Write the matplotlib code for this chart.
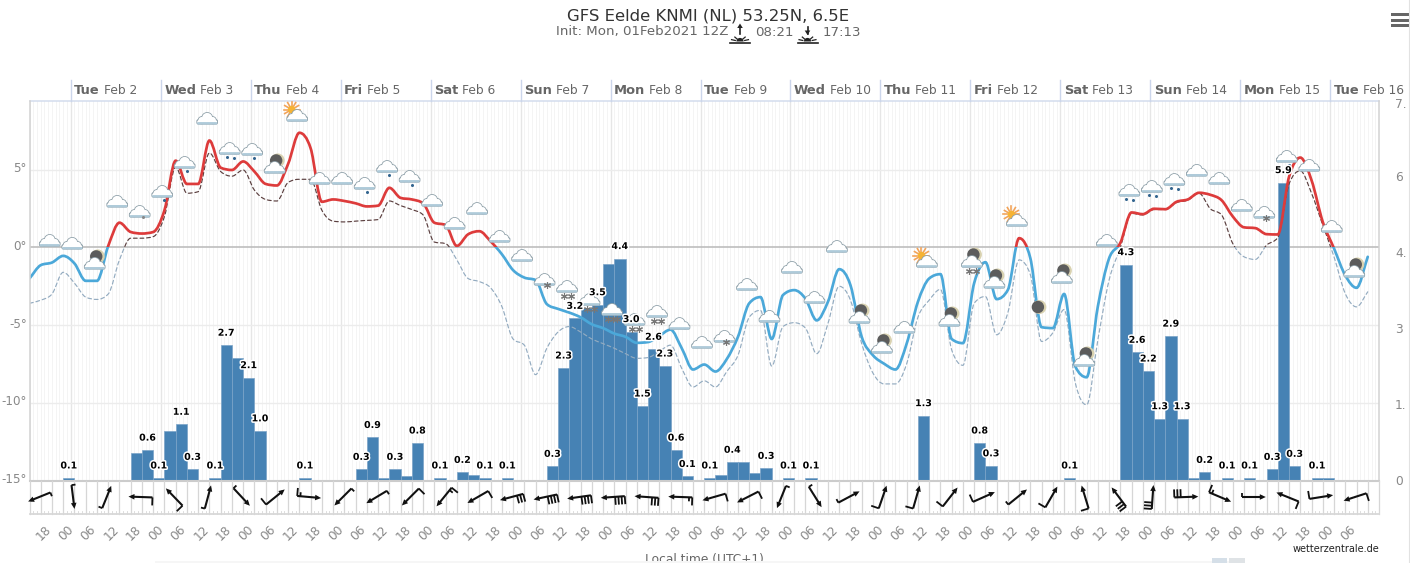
import numpy as np
import matplotlib
matplotlib.use("Agg")
import matplotlib.pyplot as plt
from matplotlib.path import Path
from matplotlib.patches import PathPatch, Rectangle, Circle, FancyBboxPatch, Polygon, Wedge
import matplotlib.patheffects as pe

# ---------- data ----------
temp = [-2.0,-1.14,-.97,-.54,-1.03,-2.15,-2.15,.1,1.6,1.0,.9,1.0,2.4,5.6,4.1,4.1,6.9,5.15,5.0,5.55,
        4.9,4.1,4.0,5.4,7.4,6.4,2.95,3.1,3.0,2.85,2.65,2.7,3.85,3.2,3.1,2.85,1.6,1.45,.1,.85,
        1.05,.4,-.43,-1.46,-1.94,-2.1,-3.65,-3.96,-4.2,-4.5,-4.95,-5.2,-5.55,-5.76,-6.15,-6.1,-5.7,-5.3,-6.5,-7.87,
        -7.55,-8.0,-7.2,-5.76,-3.6,-3.2,-5.9,-3.07,-2.75,-3.3,-4.7,-3.5,-1.4,-2.43,-5.76,-6.95,-7.5,-7.87,-6.2,-3.5,
        -2.0,-1.72,-5.9,-6.17,-2.3,-.95,-3.33,-2.73,.6,-.7,-5.14,-5.2,-3.0,-7.68,-8.37,-3.8,-.7,.3,2.26,2.15,
        2.5,2.47,2.95,3.1,3.53,3.4,3.05,2.0,1.3,1.25,.86,.84,4.56,5.8,4.34,1.65,-.06,-1.8,-2.6,-.6]
dew = [-3.6,-3.4,-3.0,-1.6,-2.3,-3.2,-3.35,-3.0,-.8,.6,.6,.7,2.0,5.2,3.5,3.6,6.1,4.9,4.6,5.0,
       3.7,3.1,3.0,4.2,4.4,4.4,2.4,1.7,1.65,1.7,1.75,1.8,3.0,2.7,2.45,2.1,.35,.25,-.8,-2.0,
       -2.2,-2.6,-3.8,-5.9,-6.3,-8.2,-6.5,-5.45,-5.1,-5.45,-5.9,-6.2,-6.5,-6.85,-7.15,-7.1,-6.7,-6.3,-7.8,-9.0,
       -8.6,-9.0,-8.0,-6.95,-4.5,-4.05,-7.65,-5.1,-4.85,-5.2,-6.85,-4.9,-2.5,-3.4,-6.2,-8.1,-8.8,-8.8,-7.5,-4.5,
       -3.4,-2.7,-6.6,-7.6,-3.6,-3.16,-5.63,-4.2,-.8,-1.76,-6.06,-5.5,-4.0,-8.75,-10.15,-5.96,-2.1,0.0,2.2,2.1,
       2.45,2.45,2.9,3.05,3.5,2.5,2.1,.25,-.6,-.77,.15,.65,4.1,4.95,3.5,1.45,-.6,-2.97,-3.83,-2.86]
precip = [0,0,0,.05,0,0,0,0,0,.54,.6,.05,.98,1.11,.22,0,.05,2.67,2.41,2.03,
          .98,0,0,0,.05,0,0,0,0,.22,.85,.05,.22,.09,.74,0,.05,0,.16,.1,
          .05,0,.05,0,0,0,.28,2.22,3.2,3.4,3.47,4.28,4.38,2.94,1.47,2.59,2.26,.6,.08,0,
          .05,.1,.36,.36,.15,.24,0,.05,0,.05,0,0,0,0,0,0,0,0,0,1.28,
          0,0,0,0,.74,.29,0,0,0,0,0,0,.05,0,0,0,0,4.26,2.53,2.16,
          1.22,2.85,1.22,.05,.16,0,.05,0,.05,0,.22,5.88,.28,0,.05,.05,0,0,0,0]
label_steps = [4,11,12,14,15,17,18,20,21,25,30,31,33,35,37,39,41,43,47,48,49,51,53,54,55,56,57,58,59,61,63,66,68,70,
               80,85,86,93,98,99,100,101,102,103,105,107,109,111,112,113,115]
label_texts = ["0.1","0.6","0.1","1.1","0.3","0.1","2.7","2.1","1.0","0.1","0.3","0.9","0.3","0.8","0.1","0.2",
               "0.1","0.1","0.3","2.3","3.2","3.5","4.4","3.0","1.5","2.6","2.3","0.6","0.1","0.1","0.4","0.3","0.1","0.1",
               "1.3","0.8","0.3","0.1","4.3","2.6","2.2","1.3","2.9","1.3","0.2","0.1","0.1","0.3","5.9","0.3","0.1"]
wind_dir = [202,277,68,178,134,75,-47,39,-5,225,211,225,231,210,195,192,188,184,176,178,
            196,207,248,-58,28,71,74,52,24,39,60,107,127,86,2,-23,0,158,9,198]
wind_barbs = [1,1,1,2,2,1,1,2,3,1,1,2,3,2,6,8,8,8,6,3,
              2,2,1,1,1,2,2,2,2,1,2,2,6,6,6,3,1,2,2,2]
icon_kind = ["c","c","m","c","d","r1","r1","c","r2","r1","m","sun","c","c","r1","r1","r1","c","c","c",
             "c","c","s1","s2","s2","s3","s2","s2","c","c","s1","c","c","c","c","c","m","m","c","sun",
             "m","ms","m","sun","moon","m","m","c","r2","r2","r2","c","c","c","s1","r1","c","c","m"]
icon_temp = [.42,.23,-1.06,2.94,2.29,3.58,5.45,8.29,6.35,6.29,5.13,8.48,4.42,4.42,4.1,5.19,4.55,3.0,1.52,2.48,
             .68,-.55,-2.1,-2.55,-3.39,-4.03,-4.68,-4.16,-4.94,-6.16,-5.77,-2.42,-4.48,-1.32,-3.26,.03,-4.55,-6.48,-5.19,-.94,
             -4.74,-.94,-2.29,1.71,-3.84,-1.97,-7.32,.42,3.65,3.9,4.35,4.94,4.42,2.68,2.23,5.84,5.26,1.32,-1.58]
day_names = ["Tue","Wed","Thu","Fri","Sat","Sun","Mon","Tue","Wed","Thu","Fri","Sat","Sun","Mon","Tue"]
day_dates = ["Feb 2","Feb 3","Feb 4","Feb 5","Feb 6","Feb 7","Feb 8","Feb 9","Feb 10","Feb 11","Feb 12",
             "Feb 13","Feb 14","Feb 15","Feb 16"]
temp_ticks = [5,0,-5,-10,-15]
temp_tick_labels = ["5°","0°","-5°","-10°","-15°"]
precip_ticks = [7.5,6,4.5,3,1.5,0]
precip_tick_labels = ["7.","6","4.","3","1.","0"]
hour_labels = ["18","00","06","12"]

W, H = 1410, 563
fig = plt.figure(figsize=(W/100, H/100), dpi=100, facecolor="white")
rect = [29.5/W, 1-480.5/H, (1379-29.5)/W, (480.5-101)/H]

axp = fig.add_axes(rect, zorder=1, facecolor="white")
ax = fig.add_axes(rect, zorder=2, facecolor="none")
ov = fig.add_axes([0, 0, 1, 1], zorder=3, facecolor="none")
ov.set_xlim(0, W); ov.set_ylim(H, 0); ov.axis("off")

for a in (ax, axp):
    a.set_xlim(0, 120)
    a.set_xticks([]); a.set_yticks([])
    for s in a.spines.values():
        s.set_visible(False)
ax.set_ylim(-15.03, 9.45)
axp.set_ylim(0, 7.49)

# fine grid, all behind the bars
for h in range(0, 361):
    axp.axvline(h/3, color="#f2f2f2", lw=0.6, zorder=0)
day_steps = [(11+24*d)/3 for d in range(len(day_names))]
for d in day_steps:
    axp.axvline(d, color="#e6e6e6", lw=1.0, zorder=0.5)
ytr = ax.get_yaxis_transform()
for t in temp_ticks[:-1]:
    if t != 0:
        axp.plot([0, 1], [t, t], transform=ytr, color="#ececec", lw=1.0, zorder=0.5)
axp.plot([0, 1], [0, 0], transform=ytr, color="#bdbdbd", lw=1.2, zorder=1)

# bars
steps = np.arange(1, len(precip)+1)
vals = np.array(precip, float)
m = vals > 0
axp.bar(steps[m]-0.5, vals[m], width=1.0, color="#4682b4", edgecolor="#7ba4c8", linewidth=0.5, zorder=2)

# smooth curve through the points: cubic with limited tangents
def spline_path(xs, ys):
    xs = np.asarray(xs, float); ys = np.asarray(ys, float)
    d = np.diff(ys)/np.diff(xs)
    m = np.zeros(len(xs))
    m[0], m[-1] = d[0], d[-1]
    for i in range(1, len(xs)-1):
        if d[i-1]*d[i] <= 0:
            m[i] = 0.0
        else:
            c = 0.5*(d[i-1]+d[i])
            lim = 2.2*min(abs(d[i-1]), abs(d[i]))
            m[i] = np.sign(c)*min(abs(c), lim)
    verts = [(xs[0], ys[0])]; codes = [Path.MOVETO]
    for i in range(1, len(xs)):
        h = xs[i]-xs[i-1]
        verts += [(xs[i-1]+h/3, ys[i-1]+m[i-1]*h/3), (xs[i]-h/3, ys[i]-m[i]*h/3), (xs[i], ys[i])]
        codes += [Path.CURVE4]*3
    return Path(verts, codes)

xk = np.arange(len(temp))
def zoned(series, above, below, lw, ls, z):
    p = spline_path(xk, series)
    for col, (y0, y1) in ((above, (0, 20)), (below, (-30, 0))):
        patch = PathPatch(p, fill=False, edgecolor=col, lw=lw, ls=ls, zorder=z, capstyle="round")
        ax.add_patch(patch)
        patch.set_clip_path(Rectangle((0, y0), 120, y1-y0, transform=ax.transData))

zoned(dew, "#5b3f3f", "#93abc0", 0.85, (0, (3.2, 2.4)), 3)
zoned(temp, "#dd3b3b", "#4ba8d9", 1.95, "-", 4)

def to_px(a, x, y):
    dx, dy = a.transData.transform((x, y))
    return dx, H-dy

# borders
ov.plot([29.5, 1379], [101, 101], color="#d3dcee", lw=1.1, zorder=1)
ov.plot([29.5, 29.5], [101, 481], color="#d2d2d2", lw=1.1, zorder=1)
ov.plot([1379, 1379], [101, 481], color="#d2d2d2", lw=1.1, zorder=1)
ov.plot([29.5, 1379], [481, 481], color="#cccccc", lw=1.5, zorder=1)

# day headers
rend = fig.canvas.get_renderer()
for d, nm, dt in zip(day_steps, day_names, day_dates):
    xp, _ = to_px(ax, d, 0)
    ov.plot([xp, xp], [80, 101], color="#ccd6eb", lw=1.0, zorder=1)
    t = ov.text(xp+3.5, 90.5, nm, fontsize=9.4, fontweight="bold", color="#666666", va="center", ha="left")
    w = t.get_window_extent(rend).width
    ov.text(xp+3.5+w+4, 91, dt, fontsize=8.8, color="#666666", va="center", ha="left")

# tick labels
for t, l in zip(temp_ticks, temp_tick_labels):
    _, yp = to_px(ax, 0, t)
    ov.text(27, yp-1, l, fontsize=8.6, color="#888888", ha="right", va="center")
for t, l in zip(precip_ticks, precip_tick_labels):
    _, yp = to_px(axp, 0, t)
    ov.text(1395, max(yp+1, 104), l, fontsize=8.8, color="#888888", ha="left", va="center")

# wind strip
for k in range(0, 121):
    xp, _ = to_px(ax, k, 0)
    ov.plot([xp, xp], [481, 514], color="#d6d6d6", lw=0.9, zorder=1)
ov.plot([29.5, 1379], [514, 514], color="#d8d8d8", lw=1.3, zorder=1)
for h in range(0, 361):
    xp, _ = to_px(ax, h/3, 0)
    ov.plot([xp, xp], [510.5, 514], color="#d8d8d8", lw=0.6, zorder=1)

for i, (ang, n) in enumerate(zip(wind_dir, wind_barbs)):
    xp, _ = to_px(ax, 1+3*i, 0)
    cx, cy = xp-1.5, 497
    th = np.deg2rad(ang)
    u = np.array([np.cos(th), -np.sin(th)])
    left = np.array([u[1], -u[0]])
    c = np.array([cx, cy])
    tail, head = c-12*u, c+12*u
    ov.plot(*zip(tail, head-3*u), color="#111111", lw=1.5, zorder=5, solid_capstyle="butt")
    ov.add_patch(Polygon([head, head-6*u+2.8*left, head-6*u-2.8*left], closed=True, color="#111111", zorder=5, lw=0))
    pos, rem = 0.0, n
    while rem > 0:
        ln = 8 if rem >= 2 else 4
        b0 = tail+pos*u
        ov.plot(*zip(b0, b0+ln*left), color="#111111", lw=1.3, zorder=5, solid_capstyle="butt")
        rem -= 2; pos += 3.2

# icons
def cloud(cx, cy):
    for off, col in ((0.8, "#8d9fa8"), (0, "white")):
        z = 6+(off == 0)*0.1
        for (dx, dy, r) in ((-5.5, 1.2, 3.2), (0, -1.0, 5.1), (5.5, 1.2, 3.2)):
            ov.add_patch(Circle((cx+dx, cy+dy), r+off, color=col, lw=0, zorder=z))
        ov.add_patch(FancyBboxPatch((cx-10-off, cy+1-off), 20+2*off, 3.8+2*off,
                                    boxstyle="round,pad=0,rounding_size=2.0", color=col, lw=0, zorder=z))
    ov.add_patch(FancyBboxPatch((cx-10, cy+3.1), 20, 2.4, boxstyle="round,pad=0,rounding_size=1.1",
                                color="#aecad9", lw=0, zorder=6.2))

def moon(cx, cy):
    ov.add_patch(Circle((cx, cy), 7, color="#d9d2b0", lw=0, zorder=5.5))
    ov.add_patch(Circle((cx-1.5, cy), 6.2, color="#5c5c5c", lw=0, zorder=5.6))

def sun(cx, cy):
    for a in np.arange(0, 360, 30):
        r = np.deg2rad(a)
        ov.plot([cx+4*np.cos(r), cx+8*np.cos(r)], [cy+4*np.sin(r), cy+8*np.sin(r)],
                color="#f2a45a", lw=1.2, zorder=5.5)
    ov.add_patch(Circle((cx, cy), 3.8, color="#f5b335", lw=0, zorder=5.6))

def drops(pts, col="#33658f"):
    ov.plot([p[0] for p in pts], [p[1] for p in pts], ls="none", marker="o", ms=2.2, color=col, mew=0, zorder=7)

def flakes(pts):
    ov.plot([p[0] for p in pts], [p[1] for p in pts], ls="none", marker=(6, 2, 0), ms=5, color="#777777", mew=0.8, zorder=7)

for j, (kind, tv) in enumerate(zip(icon_kind, icon_temp), start=1):
    xp, yp = to_px(ax, 2*j-0.2, tv)
    if kind == "moon":
        moon(xp, yp); continue
    if kind in ("m", "ms"):
        moon(xp+3, yp-7.5)
    if kind == "sun":
        sun(xp-5.5, yp-6.5)
    cloud(xp, yp)
    if kind == "r1":
        drops([(xp+2, yp+8)])
    elif kind == "r2":
        drops([(xp-3, yp+8), (xp+4, yp+9)])
    elif kind == "d":
        drops([(xp+3, yp+5)], "#888888")
    elif kind == "s1":
        flakes([(xp+2, yp+5)])
    elif kind in ("s2", "ms"):
        flakes([(xp-3, yp+9), (xp+4, yp+9)])
    elif kind == "s3":
        flakes([(xp-4, yp+9), (xp+1, yp+9), (xp+5, yp+9)])

# bar labels
halo = [pe.withStroke(linewidth=2.2, foreground="white")]
for k, s in zip(label_steps, label_texts):
    xp, yp = to_px(axp, k-0.5, precip[k-1])
    ov.text(xp, yp-12, s, fontsize=6.8, fontweight="bold", color="black", ha="center", va="center",
            path_effects=halo, zorder=9)

# time labels
for i in range(59):
    h = 5+6*i
    xp, _ = to_px(ax, h/3, 0)
    ov.text(xp-4.5, 533, hour_labels[i % 4], fontsize=8.8, rotation=45, color="#888888",
            ha="center", va="center", rotation_mode="anchor")

# titles
ov.text(708, 16, "GFS Eelde KNMI (NL) 53.25N, 6.5E", fontsize=11.85, color="#333333", ha="center", va="center")
ov.text(555.5, 32, "Init: Mon, 01Feb2021 12Z", fontsize=9.6, color="#666666", ha="left", va="center")
ov.text(755, 32, "08:21", fontsize=9.6, color="#666666", ha="left", va="center")
ov.text(823, 32, "17:13", fontsize=9.6, color="#666666", ha="left", va="center")

def sunmark(cx, up):
    ov.plot([cx-10, cx+10], [43.2, 43.2], color="#222222", lw=1.2)
    ov.add_patch(Wedge((cx, 41.5), 3.6, 180, 360, color="#222222", lw=0))
    for a in (20, 55, 125, 160):
        r = np.deg2rad(a)
        ov.plot([cx+5*np.cos(r), cx+9*np.cos(r)], [41.5-5*np.sin(r)*0.6, 41.5-9*np.sin(r)*0.6], color="#222222", lw=0.9)
    ov.plot([cx, cx], [27, 34], color="#222222", lw=1.2)
    if up:
        ov.add_patch(Polygon([(cx, 23.5), (cx-2.8, 28), (cx+2.8, 28)], color="#222222", lw=0))
    else:
        ov.add_patch(Polygon([(cx, 35), (cx-2.8, 30.5), (cx+2.8, 30.5)], color="#222222", lw=0))
sunmark(740, True)
sunmark(807.5, False)

# page furniture
for y in (13, 18.5, 24):
    ov.add_patch(Rectangle((1391, y), 18, 3.2, color="#666666", lw=0))
ov.plot([1409.3, 1409.3], [0, 563], color="#e2e2e2", lw=0.8)
ov.text(704, 559, "Local time (UTC+1)", fontsize=8.8, color="#666666", ha="center", va="center", zorder=1)
ov.add_patch(Rectangle((155, 560.5), 1085, 3, color="#f6f6f6", lw=0, zorder=2))
ov.add_patch(Rectangle((1212, 558), 15, 5, color="#d5dfe8", lw=0, zorder=3))
ov.add_patch(Rectangle((1229, 558), 16, 5, color="#dfe3e6", lw=0, zorder=3))
ov.text(1379, 549.5, "wetterzentrale.de", fontsize=7.0, color="#222222", ha="right", va="center")

fig.savefig("out.png", dpi=100)
